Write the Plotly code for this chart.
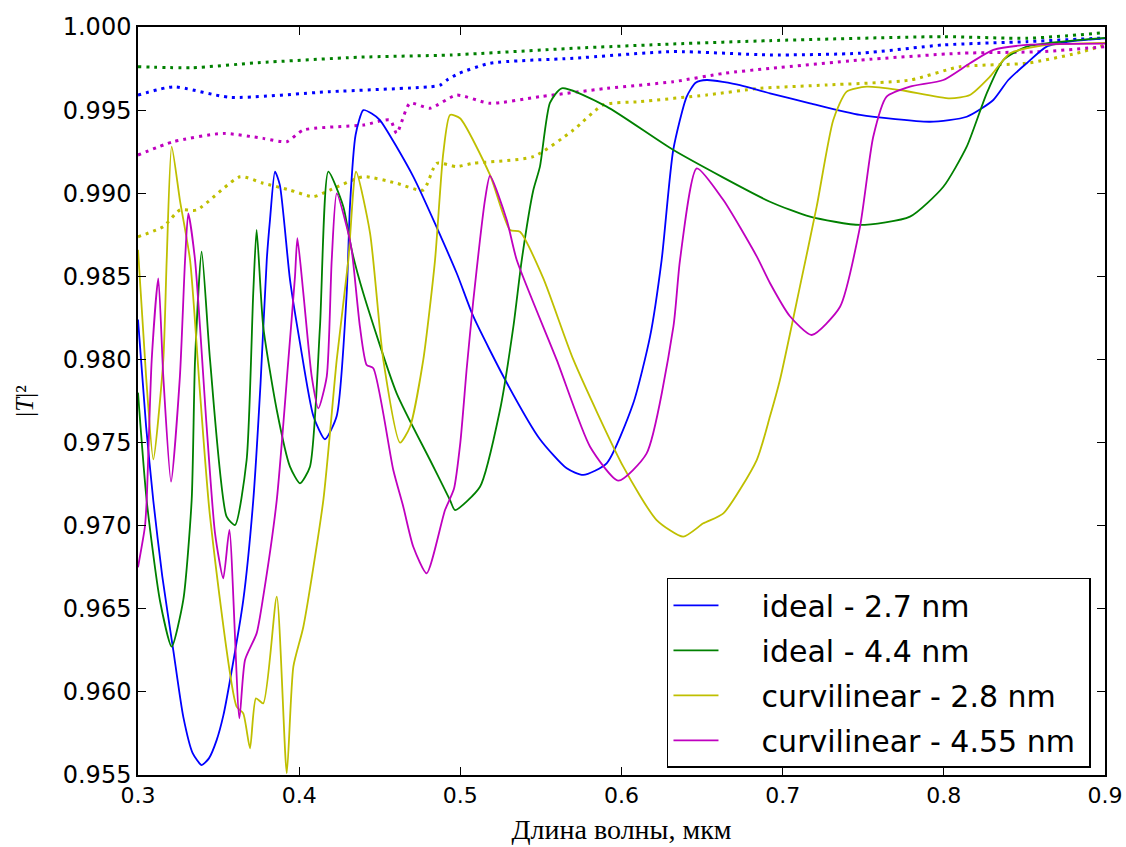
import plotly.graph_objects as go

# ---------------- data ----------------
# solid curves
wl_ideal_27 = [0.300, 0.305, 0.3095, 0.315, 0.3219, 0.3281, 0.334, 0.3395, 0.344, 0.3488, 0.353,
               0.3571, 0.3653, 0.3715, 0.376, 0.3799, 0.3819, 0.385, 0.388, 0.3943, 0.4005, 0.4088,
               0.416, 0.4233, 0.4295, 0.4315, 0.435, 0.4398, 0.445, 0.4501, 0.4708, 0.4977, 0.508,
               0.5288, 0.5494, 0.566, 0.5763, 0.5908, 0.6073, 0.6177, 0.6249, 0.6321, 0.6404, 0.646,
               0.6529, 0.6735, 0.6921, 0.717, 0.748, 0.7914, 0.8142, 0.8307, 0.84, 0.8514, 0.8638,
               0.88, 0.90]
T_ideal_27 = [0.9824, 0.9760, 0.9715, 0.9670, 0.9625, 0.9585, 0.9563, 0.9556, 0.9560, 0.9571, 0.9586,
              0.9607, 0.9655, 0.9715, 0.9785, 0.9860, 0.9884, 0.9913, 0.9905, 0.9848, 0.9810, 0.9766,
              0.9752, 0.9766, 0.9840, 0.9892, 0.9935, 0.9950, 0.9948, 0.9944, 0.9910, 0.9852, 0.9826,
              0.9786, 0.9752, 0.97345, 0.97305, 0.97375, 0.97736, 0.98137, 0.98598, 0.9926, 0.9958, 0.99665,
              0.99681, 0.99651, 0.99601, 0.99541, 0.99471, 0.99430, 0.99460, 0.99561, 0.99681, 0.99782, 0.99882,
              0.99915, 0.99932]

wl_ideal_44 = [0.300, 0.3054, 0.3136, 0.3209, 0.3281, 0.3333, 0.3354, 0.3395, 0.3447, 0.355, 0.3602,
               0.3674, 0.3715, 0.3736, 0.3777, 0.3861, 0.3943, 0.4005, 0.4067, 0.4129, 0.4181, 0.4274,
               0.4326, 0.4398, 0.4605, 0.4812, 0.4936, 0.4967, 0.5122, 0.5246, 0.5329, 0.5381, 0.5453,
               0.5494, 0.5556, 0.5629, 0.5908, 0.6322, 0.6921, 0.717, 0.748, 0.779, 0.7997, 0.8142,
               0.8266, 0.8369, 0.8514, 0.90]
T_ideal_44 = [0.9780, 0.9715, 0.9655, 0.96272, 0.96553, 0.97154, 0.97997, 0.98648, 0.97997, 0.97054, 0.97004,
              0.97395, 0.98398, 0.98779, 0.98197, 0.97696, 0.97355, 0.97255, 0.97355, 0.98197, 0.99130, 0.98919,
              0.98658, 0.98398, 0.97796, 0.97395, 0.97154, 0.97094, 0.97234, 0.97696, 0.98197, 0.98598, 0.99019,
              0.9916, 0.99543, 0.99631, 0.99521, 0.99260, 0.98949, 0.98859, 0.98809, 0.98859, 0.99039, 0.99280,
              0.99601, 0.99801, 0.99882, 0.99935]

wl_curv_28 = [0.300, 0.305, 0.3095, 0.3157, 0.3178, 0.3209, 0.326, 0.3323, 0.3385, 0.3447, 0.3612,
              0.3653, 0.3695, 0.3732, 0.3777, 0.3861, 0.3923, 0.3964, 0.4026, 0.415, 0.4233, 0.4305,
              0.4353, 0.444, 0.4522, 0.4626, 0.4688, 0.477, 0.4843, 0.4894, 0.4936, 0.4998, 0.5184,
              0.5308, 0.537, 0.5515, 0.5702, 0.6011, 0.6218, 0.6383, 0.6508, 0.6632, 0.6839, 0.6921,
              0.6983, 0.7107, 0.7211, 0.7314, 0.7397, 0.7521, 0.7728, 0.8038, 0.8162, 0.8286, 0.8411,
              0.8638, 0.90]
T_curv_28 = [0.9866, 0.9790, 0.97399, 0.97997, 0.98598, 0.99280, 0.98959, 0.98598, 0.97796, 0.97054, 0.95911,
             0.95871, 0.95661, 0.95961, 0.95931, 0.96573, 0.95510, 0.96152, 0.96392, 0.97154, 0.97997, 0.98598,
             0.99130, 0.98759, 0.97997, 0.97499, 0.97595, 0.97997, 0.98598, 0.99240, 0.99471, 0.99451, 0.99110,
             0.98779, 0.98768, 0.98488, 0.97997, 0.97355, 0.97034, 0.96934, 0.97014, 0.97074, 0.97395, 0.97656,
             0.97876, 0.98438, 0.98919, 0.99441, 0.99611, 0.99641, 0.99621, 0.99571, 0.99591, 0.99701, 0.99842,
             0.99892, 0.99905]

wl_curv_455 = [0.300, 0.3043, 0.3054, 0.3085, 0.3126, 0.3157, 0.3205, 0.326, 0.3292, 0.3312, 0.3354,
               0.3426, 0.3478, 0.3529, 0.3567, 0.3629, 0.3664, 0.3736, 0.3777, 0.3861, 0.3933, 0.3974,
               0.3989, 0.4026, 0.4078, 0.4119, 0.4171, 0.4202, 0.4233, 0.4295, 0.4326, 0.4377, 0.4419,
               0.446, 0.4584, 0.4646, 0.4708, 0.4791, 0.4905, 0.496, 0.500, 0.504, 0.508, 0.5122,
               0.5153, 0.5184, 0.5288, 0.535, 0.5598, 0.5805, 0.598, 0.6156, 0.6322, 0.6363, 0.6467,
               0.6632, 0.6839, 0.6921, 0.7045, 0.718, 0.7356, 0.748, 0.7562, 0.7645, 0.779, 0.7997, 0.8162,
               0.8307, 0.8514, 0.90]
T_curv_455 = [0.9675, 0.96994, 0.97154, 0.97997, 0.98488, 0.97897, 0.97265, 0.97897, 0.98598, 0.98879, 0.98598,
              0.97595, 0.96954, 0.96683, 0.96974, 0.95841, 0.96192, 0.96352, 0.96573, 0.97154, 0.97997, 0.98498,
              0.98729, 0.98398, 0.97897, 0.97706, 0.97897, 0.98598, 0.98999, 0.98799, 0.98658, 0.98197, 0.97967,
              0.97947, 0.97335, 0.97114, 0.96873, 0.96713, 0.97094, 0.9722, 0.9750, 0.9795, 0.9835, 0.9872,
              0.9896, 0.99104, 0.98839, 0.98598, 0.97997, 0.97475, 0.97271, 0.97435, 0.98197, 0.98598, 0.99150,
              0.98959, 0.9862, 0.9846, 0.9826, 0.98147, 0.98317, 0.98799, 0.99340, 0.99581, 0.99641, 0.99681, 0.99782,
              0.99862, 0.99892, 0.9990]

# dotted curves
wl_dot_ideal_27 = [0.300, 0.3219, 0.3571, 0.4191, 0.4811, 0.4874, 0.4915, 0.499, 0.5184, 0.5701,
                   0.6322, 0.6921, 0.748, 0.7995, 0.8516, 0.90]
T_dot_ideal_27 = [0.9959, 0.9964, 0.99577, 0.99611, 0.9964, 0.9965, 0.9968, 0.9972, 0.99782, 0.99812,
                  0.99852, 0.99832, 0.99842, 0.99892, 0.99912, 0.99934]

wl_dot_ideal_44 = [0.300, 0.3333, 0.3745, 0.4365, 0.4946, 0.5701, 0.6322, 0.6921, 0.7995, 0.8516, 0.90]
T_dot_ideal_44 = [0.99761, 0.99755, 0.99785, 0.99818, 0.99832, 0.99872, 0.99898, 0.99918, 0.99942, 0.99932, 0.99966]

wl_dot_curv_28 = [0.300, 0.3157, 0.326, 0.3364, 0.3633, 0.3777, 0.3943, 0.4088, 0.4191, 0.4398, 0.4605,
                  0.477, 0.4853, 0.4977, 0.508, 0.5453, 0.5701, 0.5887, 0.6115, 0.6529, 0.6859, 0.7273,
                  0.779, 0.81, 0.8514, 0.8824, 0.90]
T_dot_curv_28 = [0.98738, 0.98799, 0.98899, 0.98899, 0.99099, 0.99060, 0.99019, 0.98979, 0.99019, 0.99099, 0.99060,
                 0.99019, 0.99180, 0.99160, 0.99180, 0.99220, 0.99380, 0.99531, 0.99551, 0.99591, 0.99631, 0.99651,
                 0.99681, 0.99761, 0.99782, 0.99842, 0.99892]

wl_dot_curv_455 = [0.300, 0.3219, 0.3529, 0.3777, 0.3923, 0.4026, 0.4398, 0.4564, 0.4605, 0.4687, 0.4811,
                   0.4977, 0.5184, 0.5494, 0.5908, 0.6322, 0.6632, 0.6921, 0.748, 0.81, 0.8617, 0.90]
T_dot_curv_455 = [0.99230, 0.99310, 0.99360, 0.99330, 0.99310, 0.99380, 0.99410, 0.99440, 0.99360, 0.99541, 0.99511,
                  0.99590, 0.99541, 0.99581, 0.99631, 0.99671, 0.99721, 0.99751, 0.99801, 0.99842, 0.99852, 0.99882]

names = ["ideal - 2.7 nm", "ideal - 4.4 nm", "curvilinear - 2.8 nm", "curvilinear - 4.55 nm"]
colors = ["#0000ff", "#008000", "#bfbf00", "#bf00bf"]

x_ticks = [0.3, 0.4, 0.5, 0.6, 0.7, 0.8, 0.9]
y_ticks = [0.955, 0.960, 0.965, 0.970, 0.975, 0.980, 0.985, 0.990, 0.995, 1.000]

solid = [(wl_ideal_27, T_ideal_27), (wl_ideal_44, T_ideal_44),
         (wl_curv_28, T_curv_28), (wl_curv_455, T_curv_455)]
dotted = [(wl_dot_ideal_27, T_dot_ideal_27), (wl_dot_ideal_44, T_dot_ideal_44),
          (wl_dot_curv_28, T_dot_curv_28), (wl_dot_curv_455, T_dot_curv_455)]

NB = "\u00a0"

fig = go.Figure()
for (xs, ys), c in zip(dotted, colors):
    fig.add_trace(go.Scatter(x=xs, y=ys, mode="lines", showlegend=False, hoverinfo="skip",
                             line=dict(color=c, width=3, dash="3px,5px", shape="spline", smoothing=0.6)))
for i, ((xs, ys), c, n) in enumerate(zip(solid, colors, names)):
    fig.add_trace(go.Scatter(x=xs, y=ys, mode="lines", name=NB * 4 + n + NB, legendgroup=f"g{i}",
                             line=dict(color=c, width=1.8, shape="spline", smoothing=0.6)))

axis_common = dict(showline=True, linecolor="black", linewidth=1.5, mirror="ticks",
                   ticks="inside", ticklen=8, tickwidth=1, tickcolor="black",
                   showgrid=False, zeroline=False, automargin=False)

fig.update_layout(
    width=1126, height=847,
    margin=dict(l=138, r=21, t=27, b=72),
    paper_bgcolor="white", plot_bgcolor="white",
    xaxis=dict(range=[0.3, 0.9], tickvals=x_ticks, tickformat=".1f",
               tickfont=dict(family="DejaVu Sans", size=22, color="black"),
               title=dict(text="Длина волны, мкм", standoff=12,
                          font=dict(family="Liberation Serif", size=28, color="black")),
               **axis_common),
    yaxis=dict(range=[0.955, 1.000], tickvals=y_ticks, tickformat=".3f",
               tickfont=dict(family="DejaVu Sans", size=24, color="black"),
               title=dict(text="|<i>T</i>|²", standoff=22,
                          font=dict(family="Liberation Serif", size=25, color="black")),
               **axis_common),
    legend=dict(x=0.9855, y=0.0094, xanchor="right", yanchor="bottom",
                bgcolor="white", bordercolor="black", borderwidth=1.5,
                font=dict(family="DejaVu Sans", size=30, color="black"),
                itemwidth=45, tracegroupgap=3),
)

fig.write_html("out.html")
